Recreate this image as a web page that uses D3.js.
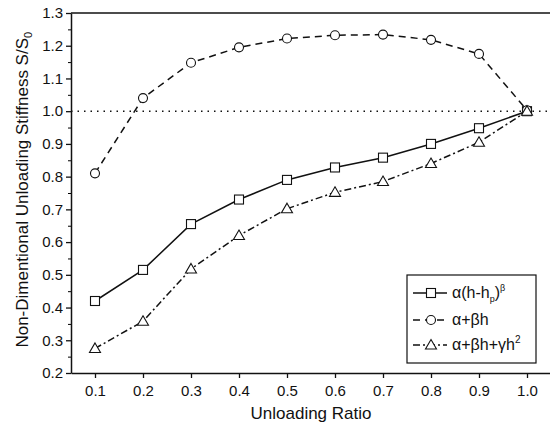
<!DOCTYPE html>
<html>
<head>
<meta charset="utf-8">
<script src="https://cdn.jsdelivr.net/npm/d3@7"></script>
<style>
  body { margin: 0; background: #fff; }
  text { font-family: "Liberation Sans", Arial, sans-serif; fill: #111; }
</style>
</head>
<body>
<div id="chart"></div>
<script>
  const ratio = [0.1, 0.2, 0.3, 0.4, 0.5, 0.6, 0.7, 0.8, 0.9, 1.0];
  const powerLaw = [0.42, 0.515, 0.655, 0.73, 0.79, 0.828, 0.858, 0.9, 0.948, 1.0];
  const linear = [0.81, 1.04, 1.148, 1.195, 1.222, 1.232, 1.234, 1.218, 1.175, 1.003];
  const quadratic = [0.275, 0.358, 0.518, 0.62, 0.702, 0.752, 0.785, 0.84, 0.905, 1.0];
  const xTicks = [0.1, 0.2, 0.3, 0.4, 0.5, 0.6, 0.7, 0.8, 0.9, 1.0];
  const yTicks = [0.2, 0.3, 0.4, 0.5, 0.6, 0.7, 0.8, 0.9, 1.0, 1.1, 1.2, 1.3];

  const width = 550, height = 428;
  const margin = { top: 13, right: -1, bottom: 55, left: 71 };

  const svg = d3.select("#chart")
    .append("svg")
    .attr("width", width)
    .attr("height", height);

  const x = d3.scaleLinear()
    .domain([0.05, 1.05])
    .range([margin.left, width - margin.right]);

  const y = d3.scaleLinear()
    .domain([0.2, 1.3])
    .range([height - margin.bottom, margin.top]);

  // frame top
  svg.append("line")
    .attr("x1", x(0.05)).attr("x2", x(1.05))
    .attr("y1", y(1.3)).attr("y2", y(1.3))
    .attr("stroke", "#111").attr("stroke-width", 1.3);

  // reference line at 1.0
  svg.append("line")
    .attr("x1", x(0.05)).attr("x2", x(1.05))
    .attr("y1", y(1.0)).attr("y2", y(1.0))
    .attr("stroke", "#111").attr("stroke-width", 1.5)
    .attr("stroke-dasharray", "1.5,5");

  const xAxis = svg.append("g")
    .attr("transform", `translate(0,${y(0.2)})`)
    .call(d3.axisBottom(x).tickValues(xTicks).tickFormat(d3.format(".1f")).tickSize(5).tickSizeOuter(0));

  const yMinor = d3.range(0.25, 1.3, 0.1);
  svg.append("g")
    .attr("transform", `translate(${x(0.05)},0)`)
    .call(d3.axisLeft(y).tickValues(yMinor).tickFormat("").tickSize(3).tickSizeOuter(0))
    .select(".domain").remove();

  const yAxis = svg.append("g")
    .attr("transform", `translate(${x(0.05)},0)`)
    .call(d3.axisLeft(y).tickValues(yTicks).tickFormat(d3.format(".1f")).tickSize(5).tickSizeOuter(0));

  [xAxis, yAxis].forEach(g => {
    g.selectAll("text").style("font-size", "15px").attr("fill", "#111");
    g.selectAll("line").attr("stroke", "#111").attr("stroke-width", 1.3);
    g.select(".domain").attr("stroke", "#111").attr("stroke-width", 1.5);
  });
  xAxis.selectAll("text").attr("dy", "1.0em");
  yAxis.selectAll("text").attr("x", -8);

  svg.append("text")
    .attr("x", 311).attr("y", 419)
    .attr("text-anchor", "middle")
    .style("font-size", "17px")
    .text("Unloading Ratio");

  const yl = svg.append("text")
    .attr("transform", `translate(28,${y(0.76)}) rotate(-90)`)
    .attr("text-anchor", "middle")
    .style("font-size", "17px");
  yl.append("tspan").text("Non-Dimentional Unloading Stiffness S/S");
  yl.append("tspan").attr("dy", 4).style("font-size", "11px").text("0");

  const series = [
    { name: "power", vals: powerLaw, dash: null, shape: "square" },
    { name: "linear", vals: linear, dash: "7,5", shape: "circle" },
    { name: "quad", vals: quadratic, dash: "7,3,2,3", shape: "triangle" }
  ];

  const line = d3.line()
    .x(d => x(d[0]))
    .y(d => y(d[1]));

  function marker(g, shape, cx, cy) {
    if (shape === "square") {
      g.append("rect")
        .attr("x", cx - 4.5).attr("y", cy - 4.5)
        .attr("width", 9).attr("height", 9)
        .attr("fill", "#fff").attr("stroke", "#111").attr("stroke-width", 1.1);
    } else if (shape === "circle") {
      g.append("circle")
        .attr("cx", cx).attr("cy", cy).attr("r", 4.5)
        .attr("fill", "#fff").attr("stroke", "#111").attr("stroke-width", 1.1);
    } else {
      g.append("path")
        .attr("d", `M${cx},${cy - 5.5}L${cx + 5.5},${cy + 4}L${cx - 5.5},${cy + 4}Z`)
        .attr("fill", "#fff").attr("stroke", "#111").attr("stroke-width", 1.1);
    }
  }

  series.forEach(s => {
    const pts = ratio.map((r, i) => [r, s.vals[i]]);
    svg.append("path")
      .datum(pts)
      .attr("d", line)
      .attr("fill", "none")
      .attr("stroke", "#111")
      .attr("stroke-width", 1.5)
      .attr("stroke-dasharray", s.dash);
  });

  series.forEach(s => {
    const g = svg.append("g");
    ratio.forEach((r, i) => marker(g, s.shape, x(r), y(s.vals[i])));
  });

  // legend
  const lg = svg.append("g");
  lg.append("rect")
    .attr("x", 407).attr("y", 275)
    .attr("width", 129).attr("height", 88)
    .attr("fill", "#fff").attr("stroke", "#111").attr("stroke-width", 1.2);

  const rows = [293, 320, 345];
  series.forEach((s, i) => {
    lg.append("line")
      .attr("x1", 413).attr("x2", 447)
      .attr("y1", rows[i]).attr("y2", rows[i])
      .attr("stroke", "#111").attr("stroke-width", 1.5)
      .attr("stroke-dasharray", s.dash);
    marker(lg, s.shape, 431, rows[i]);
  });

  const t1 = lg.append("text").attr("x", 452).attr("y", rows[0] + 5).style("font-size", "16px");
  t1.append("tspan").text("α(h-h");
  t1.append("tspan").attr("dy", 4).style("font-size", "9px").text("p");
  t1.append("tspan").attr("dy", -4).text(")");
  t1.append("tspan").attr("dy", -7).style("font-size", "9px").text("β");

  lg.append("text").attr("x", 452).attr("y", rows[1] + 5).style("font-size", "16px").text("α+βh");

  const t3 = lg.append("text").attr("x", 452).attr("y", rows[2] + 5).style("font-size", "16px");
  t3.append("tspan").text("α+βh+γh");
  t3.append("tspan").attr("dy", -7).style("font-size", "10px").text("2");
</script>
</body>
</html>
